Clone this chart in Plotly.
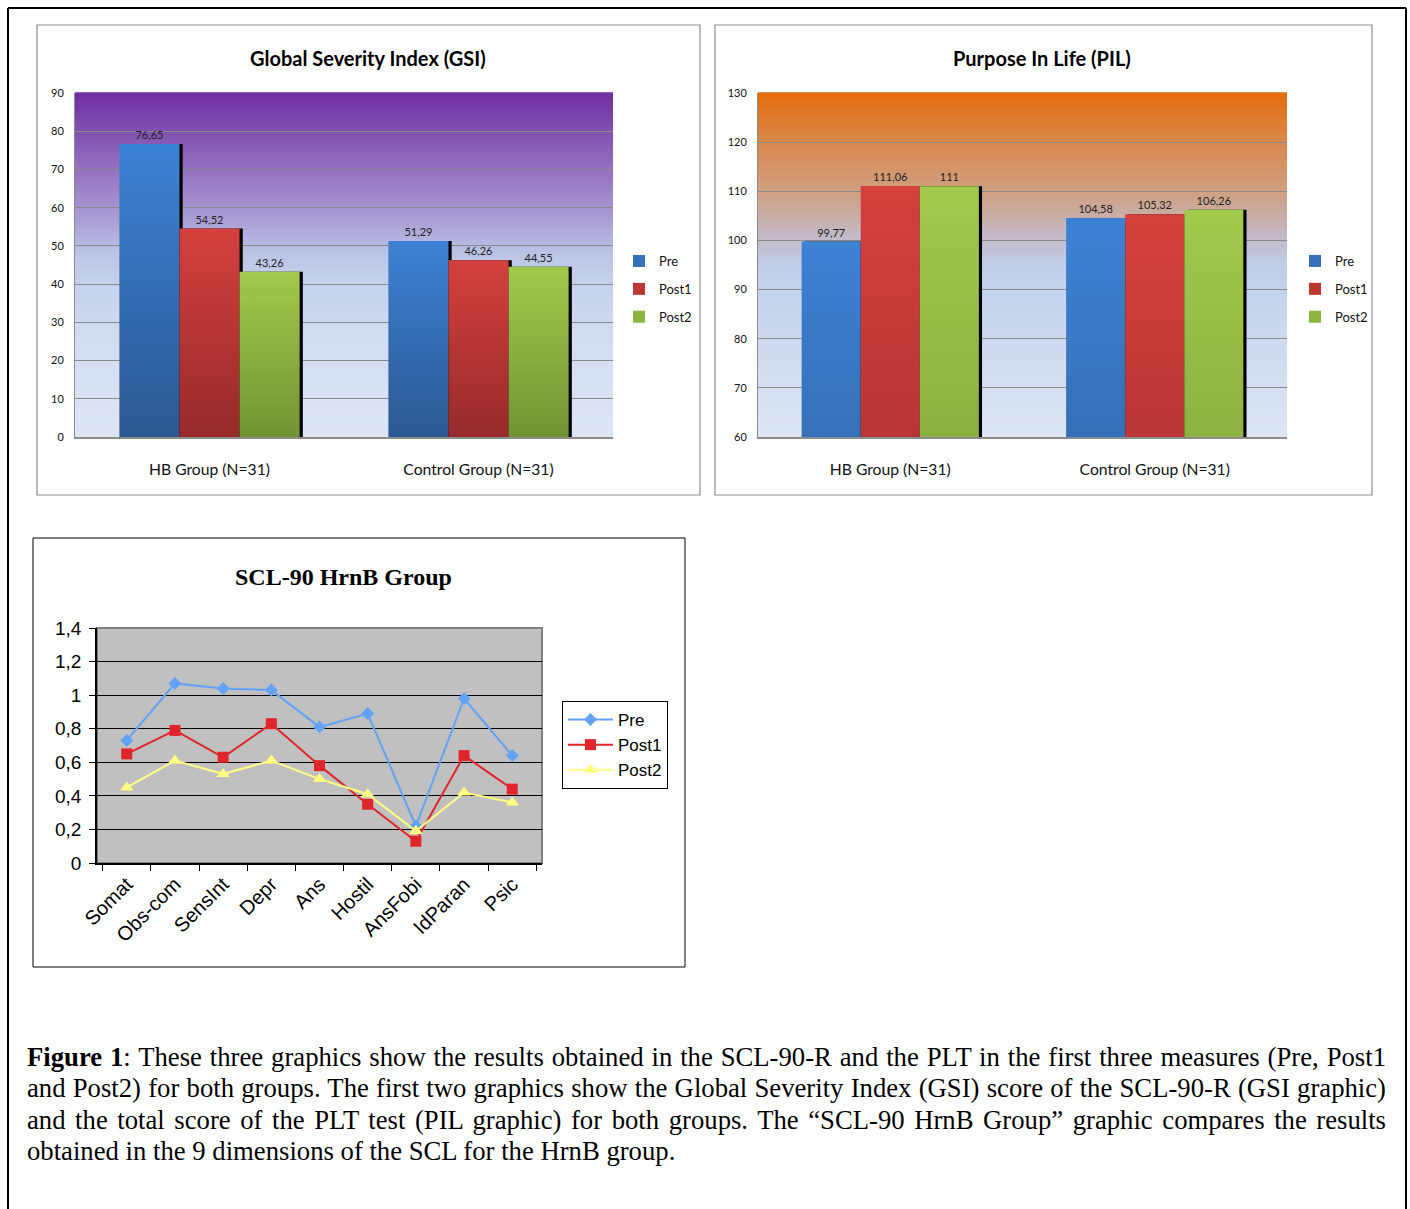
import json
import plotly.graph_objects as go

W, H = 1410, 1209

# ---------------- data ----------------
groups = ["HB Group (N=31)", "Control Group (N=31)"]
measures = ["Pre", "Post1", "Post2"]

gsi_pre = [76.65, 51.29]
gsi_post1 = [54.52, 46.26]
gsi_post2 = [43.26, 44.55]

pil_pre = [99.77, 104.58]
pil_post1 = [111.06, 105.32]
pil_post2 = [111.0, 106.26]

scl_dims = ["Somat", "Obs-com", "SensInt", "Depr", "Ans", "Hostil", "AnsFobi", "IdParan", "Psic"]
scl_pre = [0.73, 1.07, 1.04, 1.03, 0.81, 0.89, 0.22, 0.98, 0.64]
scl_post1 = [0.65, 0.79, 0.63, 0.83, 0.58, 0.35, 0.13, 0.64, 0.44]
scl_post2 = [0.45, 0.61, 0.53, 0.61, 0.50, 0.41, 0.19, 0.42, 0.36]

scl_ticks = [0, 0.2, 0.4, 0.6, 0.8, 1, 1.2, 1.4]
scl_ticklabels = ["0", "0,2", "0,4", "0,6", "0,8", "1", "1,2", "1,4"]

caption_lines = [
    "<b>Figure 1</b>: These three graphics show the results obtained in the SCL-90-R and the PLT in the first three measures (Pre, Post1",
    "and Post2) for both groups. The first two graphics show the Global Severity Index (GSI) score of the SCL-90-R (GSI graphic)",
    "and the total score of the PLT test (PIL graphic) for both groups. The “SCL-90 HrnB Group” graphic compares the results",
    "obtained in the 9 dimensions of the SCL for the HrnB group.",
]

# ---------------- helpers ----------------
def px(x):
    return x / W


def py(y):
    return 1 - y / H


def label(v):
    return f"{v:g}".replace(".", ",")


def lerp_color(stops, t):
    for (t0, c0), (t1, c1) in zip(stops, stops[1:]):
        if t0 <= t <= t1:
            f = (t - t0) / (t1 - t0) if t1 > t0 else 0
            c = [round(a + (b - a) * f) for a, b in zip(c0, c1)]
            return f"rgb({c[0]},{c[1]},{c[2]})"
    c = stops[-1][1]
    return f"rgb({c[0]},{c[1]},{c[2]})"


def gradient_shapes(xref, yref, stops, n=80):
    out = []
    for i in range(n):
        y0, y1 = i / n, (i + 1) / n
        out.append(dict(type="rect", xref=xref, yref=yref, x0=0, x1=1,
                        y0=y0, y1=y1 + 0.002, layer="below",
                        fillcolor=lerp_color(stops, (y0 + y1) / 2),
                        line=dict(width=0)))
    return out


# base bar colours and the light-top / dark-bottom ramp applied to each
bar_colors = {"Pre": (54, 112, 187), "Post1": (189, 55, 51), "Post2": (141, 180, 63)}
bar_ramps = {"Pre": ("rgb(60,130,212)", "rgb(43,88,146)"),
             "Post1": ("rgb(212,64,62)", "rgb(150,42,42)"),
             "Post2": ("rgb(162,202,76)", "rgb(114,147,52)")}
font_c = "Lato, 'Open Sans', sans-serif"
serif = "Liberation Serif, Times New Roman, serif"


def rgb(c):
    return f"rgb({c[0]},{c[1]},{c[2]})"


# bar geometry inside each category slot (3 bars filling 67% of the slot)
BAR_W = 0.67 / 3
BAR_START = -0.335
SHADOW_SHIFT = 0.012

fig = go.Figure()


def add_bar_panel(series, xa, ya, leg, grp):
    # dark drop shadows first, so the bars sit on top of them
    for i, vals in enumerate(series):
        fig.add_trace(go.Bar(
            x=groups, y=vals, width=BAR_W, offset=BAR_START + i * BAR_W + SHADOW_SHIFT,
            marker=dict(color="black", line=dict(width=0)), showlegend=False,
            hoverinfo="skip", xaxis=xa, yaxis=ya, cliponaxis=True,
        ))
    for i, (name, vals) in enumerate(zip(measures, series)):
        fig.add_trace(go.Bar(
            x=groups, y=vals, name=name, width=BAR_W, offset=BAR_START + i * BAR_W,
            marker=dict(color=rgb(bar_colors[name]), line=dict(width=0)),
            text=[label(v) for v in vals], textposition="outside", cliponaxis=False,
            textfont=dict(family=font_c, size=11, color="#222"),
            xaxis=xa, yaxis=ya, legend=leg, legendgroup=grp + name,
        ))


add_bar_panel([gsi_pre, gsi_post1, gsi_post2], "x", "y", "legend", "g1")
add_bar_panel([pil_pre, pil_post1, pil_post2], "x2", "y2", "legend2", "g2")

# ---------------- SCL lines ----------------
line_styles = [
    ("Pre", scl_pre, "#62a3f7", "diamond", 10),
    ("Post1", scl_post1, "#e0252b", "square", 11),
    ("Post2", scl_post2, "#ffff80", "triangle-up", 12),
]
for name, vals, col, sym, size in line_styles:
    fig.add_trace(go.Scatter(
        x=scl_dims, y=vals, name=name, mode="lines+markers",
        line=dict(color=col, width=2), marker=dict(symbol=sym, size=size, color=col),
        xaxis="x3", yaxis="y3", legend="legend3",
    ))

# ---------------- axes ----------------
gsi_dom_x = [px(75), px(613)]
pil_dom_x = [px(758), px(1287)]
bar_dom_y = [py(437), py(93)]
scl_dom_x = [px(97), px(542)]
scl_dom_y = [py(863), py(628)]

bar_x_common = dict(showgrid=False, showline=True, linecolor="#8c8c8c", linewidth=1.5,
                    ticks="outside", ticklen=17, tickcolor="rgba(0,0,0,0)",
                    range=[-0.5, 1.5],
                    tickfont=dict(family=font_c, size=15.7, color="#111"), zeroline=False)
bar_y_common = dict(showgrid=True, gridcolor="#8a8a8a", gridwidth=1.3, showline=True,
                    linecolor="#8c8c8c", linewidth=1, ticks="outside", ticklen=8,
                    tickcolor="rgba(0,0,0,0)", zeroline=False,
                    tickfont=dict(family=font_c, size=11, color="#111"))

legend_common = dict(xanchor="left", yanchor="top", bgcolor="rgba(0,0,0,0)",
                     traceorder="grouped", tracegroupgap=8, itemwidth=30,
                     font=dict(family=font_c, size=13, color="#111"))

fig.update_layout(
    width=W, height=H, autosize=False,
    margin=dict(l=0, r=0, t=0, b=0, autoexpand=False),
    paper_bgcolor="white", plot_bgcolor="rgba(0,0,0,0)",
    barmode="overlay",
    xaxis=dict(domain=gsi_dom_x, anchor="y", **bar_x_common),
    yaxis=dict(domain=bar_dom_y, anchor="x", range=[0, 90], dtick=10, **bar_y_common),
    xaxis2=dict(domain=pil_dom_x, anchor="y2", **bar_x_common),
    yaxis2=dict(domain=bar_dom_y, anchor="x2", range=[60, 130], dtick=10, **bar_y_common),
    xaxis3=dict(domain=scl_dom_x, anchor="y3", showgrid=False, showline=True,
                linecolor="black", linewidth=1.5, ticks="outside", ticklen=6,
                tickson="boundaries", tickcolor="black", tickangle=-45,
                tickfont=dict(family="Liberation Sans, Arial", size=20, color="black")),
    yaxis3=dict(domain=scl_dom_y, anchor="x3", range=[0, 1.4], tickvals=scl_ticks,
                ticktext=scl_ticklabels, showgrid=True, gridcolor="black", gridwidth=1.2,
                showline=True, linecolor="black", linewidth=1.5, ticks="outside",
                ticklen=6, tickcolor="black", zeroline=False, ticklabelstandoff=4,
                tickfont=dict(family="Liberation Sans, Arial", size=19, color="black")),
    legend=dict(x=px(619), y=py(246), **legend_common),
    legend2=dict(x=px(1295), y=py(246), **legend_common),
    legend3=dict(x=px(562), y=py(701), xanchor="left", yanchor="top", itemwidth=45,
                 bgcolor="white", bordercolor="black", borderwidth=1,
                 font=dict(family="Liberation Sans, Arial", size=17, color="black")),
)

# ---------------- backgrounds and frames ----------------
gsi_stops = [(0.0, (222, 230, 244)), (0.3, (210, 220, 240)), (0.44, (197, 210, 236)),
             (0.53, (188, 196, 230)), (0.62, (172, 162, 214)), (0.78, (148, 112, 192)),
             (0.89, (128, 80, 176)), (1.0, (112, 48, 160))]
pil_stops = [(0.0, (222, 230, 244)), (0.43, (197, 210, 236)), (0.5, (192, 204, 232)),
             (0.58, (194, 186, 200)), (0.71, (208, 160, 130)), (0.86, (218, 135, 75)),
             (1.0, (227, 108, 10))]

shapes = []
shapes += gradient_shapes("x domain", "y domain", gsi_stops)
shapes += gradient_shapes("x2 domain", "y2 domain", pil_stops)
shapes.append(dict(type="rect", xref="x3 domain", yref="y3 domain", x0=0, x1=1, y0=0, y1=1,
                   layer="below", fillcolor="#c0c0c0", line=dict(color="#808080", width=2)))


def frame(x0, y0, x1, y1, color, width):
    return dict(type="rect", xref="paper", yref="paper", x0=px(x0), x1=px(x1),
                y0=py(y1), y1=py(y0), line=dict(color=color, width=width),
                fillcolor="rgba(0,0,0,0)", layer="below")


shapes.append(frame(37, 25, 700, 495, "#8c8c8c", 1.2))
shapes.append(frame(715, 25, 1372, 495, "#8c8c8c", 1.2))
shapes.append(frame(33, 538, 685, 967, "black", 1))

# page border (open at the bottom)
for (x0, y0, x1, y1) in [(8, 8, 1406, 8), (8, 8, 8, 1209), (1406, 8, 1406, 1209)]:
    shapes.append(dict(type="line", xref="paper", yref="paper", x0=px(x0), x1=px(x1),
                       y0=py(y0), y1=py(y1), line=dict(color="black", width=2)))

fig.update_layout(shapes=shapes)

# ---------------- titles and caption ----------------
annotations = [
    dict(text="<b>Global Severity Index (GSI)</b>", x=px(368), y=py(58), xref="paper", yref="paper",
         xanchor="center", yanchor="middle", showarrow=False,
         font=dict(family=font_c, size=20, color="black")),
    dict(text="<b>Purpose In Life (PIL)</b>", x=px(1042), y=py(58), xref="paper", yref="paper",
         xanchor="center", yanchor="middle", showarrow=False,
         font=dict(family=font_c, size=20, color="black")),
    dict(text="<b>SCL-90 HrnB Group</b>", x=px(343), y=py(577), xref="paper", yref="paper",
         xanchor="center", yanchor="middle", showarrow=False,
         font=dict(family=serif, size=24, color="black")),
]
caption_first = len(annotations)
for i, line in enumerate(caption_lines):
    annotations.append(dict(text=line, x=px(25), y=py(1057 + i * 31.3), xref="paper", yref="paper",
                            xanchor="left", yanchor="middle", align="left", showarrow=False,
                            font=dict(family=serif, size=26.7, color="black")))
fig.update_layout(annotations=annotations)

# ---------------- browser-side finishing ----------------
# vertical colour ramps on the bars, and full justification of the caption
ramp_map = {rgb(bar_colors[m]): bar_ramps[m] for m in measures}
justify = {str(caption_first + i): 1386 for i in range(len(caption_lines) - 1)}

finish_js = """
(function(){
  var gd = document.getElementById('{plot_id}');
  var NS = 'http://www.w3.org/2000/svg';
  var ramps = RAMPS;
  var justify = JUSTIFY;
  var svg = gd.querySelector('svg.main-svg');
  var defs = document.createElementNS(NS, 'defs');
  svg.insertBefore(defs, svg.firstChild);
  var norm = function(c){ return (c || '').replace(/\\s+/g, ''); };
  gd.querySelectorAll('.barlayer .point path').forEach(function(p){
    var key = norm(p.style.fill);
    var r = ramps[key];
    if (!r) return;
    var id = 'ramp' + key.replace(/[^0-9]+/g, '_');
    if (!document.getElementById(id)) {
      var g = document.createElementNS(NS, 'linearGradient');
      g.setAttribute('id', id);
      g.setAttribute('x1', '0'); g.setAttribute('y1', '0');
      g.setAttribute('x2', '0'); g.setAttribute('y2', '1');
      [[0, r[0]], [1, r[1]]].forEach(function(s){
        var st = document.createElementNS(NS, 'stop');
        st.setAttribute('offset', s[0]);
        st.setAttribute('stop-color', s[1]);
        g.appendChild(st);
      });
      defs.appendChild(g);
    }
    p.style.fill = 'url(#' + id + ')';
  });
  gd.querySelectorAll('g.annotation').forEach(function(a){
    var target = justify[a.getAttribute('data-index')];
    if (!target) return;
    var t = a.querySelector('text.annotation-text');
    if (!t) return;
    var gaps = (t.textContent.match(/ /g) || []).length;
    if (!gaps) return;
    var right = t.getBoundingClientRect().right;
    t.style.wordSpacing = ((target - right) / gaps) + 'px';
  });
})();
"""
finish_js = finish_js.replace("RAMPS", json.dumps({k.replace(" ", ""): v for k, v in ramp_map.items()}))
finish_js = finish_js.replace("JUSTIFY", json.dumps(justify))

fig.write_html(
    "out.html",
    post_script=["document.body.style.margin='0';document.body.style.overflow='hidden';",
                 finish_js],
)
